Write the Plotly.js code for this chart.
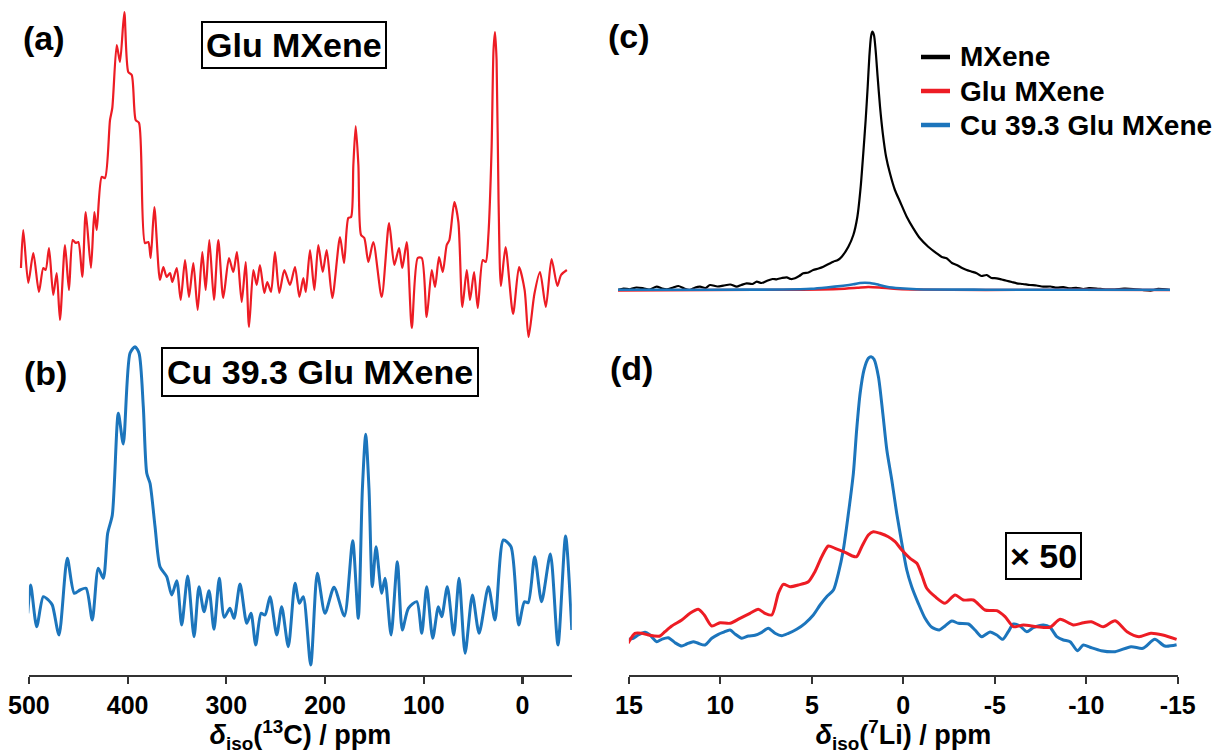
<!DOCTYPE html>
<html>
<head>
<meta charset="utf-8">
<script src="https://cdn.plot.ly/plotly-3.0.1.min.js"></script>
<style>html,body{margin:0;padding:0;background:#fff;}#chart{width:1217px;height:754px;}</style>
</head>
<body>
<div id="chart"></div>
<script>
// ---------- (a) 13C, Glu MXene ----------
const aShift = [508.0,505.7,500.6,495.5,489.8,485.4,483.0,479.6,475.3,471.8,468.5,463.4,459.4,455.6,452.6,449.9,445.9,442.4,437.1,433.7,431.3,426.2,422.9,417.8,415.5,411.0,407.7,403.3,399.3,395.8,391.8,388.4,382.4,379.0,376.6,372.9,367.2,363.8,360.4,357.0,354.7,350.2,346.2,341.8,337.8,333.4,329.0,324.3,320.9,317.2,312.5,308.1,303.1,297.3,292.9,289.2,284.4,280.3,277.0,272.6,269.2,265.9,261.5,258.5,254.7,250.7,246.3,241.2,235.5,230.4,226.0,222.0,219.5,215.2,210.8,206.8,202.3,198.3,192.6,184.8,180.7,176.4,173.6,171.3,168.9,166.2,163.5,160.2,156.1,151.1,142.6,135.1,129.8,125.0,121.7,117.2,112.1,106.1,102.0,97.0,91.9,88.5,84.5,80.7,76.7,74.0,69.0,64.9,60.9,56.4,53.1,49.0,45.3,40.2,37.2,34.5,31.3,29.3,27.8,26.2,24.2,21.8,17.1,9.5,3.5,-2.2,-6.2,-12.1,-17.8,-23.7,-29.5,-35.4,-39.1,-45.0];
const aInt = [62,100,47,77,38,62,60,82,35,57,10,85,40,90,87,88,53,118,62,118,100,153,152,210,222,285,268,318,258,255,210,207,87,88,72,123,50,63,53,57,48,62,30,70,33,67,20,78,40,90,30,90,32,72,58,78,28,68,3,60,45,65,37,48,38,78,37,60,45,63,33,52,38,80,40,85,58,80,32,93,67,112,113,165,204,165,95,92,68,88,33,107,65,82,62,88,2,72,72,13,60,43,73,58,85,90,128,108,23,60,30,58,22,70,68,95,180,280,298,270,130,44,83,16,63,40,-7,36,58,23,71,44,55,60];

// ---------- (b) 13C, Cu 39.3 Glu MXene ----------
const bShift = [501.2,498.2,492.1,485.4,480.3,476.3,469.5,461.1,454.0,448.2,442.1,435.8,429.7,424.6,420.2,415.5,409.4,404.4,397.6,392.5,388.4,384.1,380.6,377.3,372.2,367.2,360.4,355.3,350.2,345.2,339.1,332.7,327.7,322.6,317.5,312.5,307.1,302.1,296.3,292.2,286.1,279.3,275.0,270.2,264.8,260.8,255.7,248.9,243.9,237.2,230.4,226.0,222.0,214.5,207.8,200.0,190.9,180.4,172.0,166.3,162.2,158.8,155.4,152.1,148.3,142.6,139.2,133.1,126.7,121.7,115.6,107.1,102.0,97.0,90.9,85.2,81.8,76.1,69.6,64.2,58.1,50.7,43.9,34.5,27.8,19.3,11.6,3.8,-2.0,-5.8,-12.4,-19.4,-28.3,-36.0,-43.7,-50.0];
const bInt = [61.7,90,48.3,78.3,75,70,40,116.7,81.7,85,86.7,55,106.7,96.7,141.7,160,261.7,231,321.7,328.3,321.7,268.3,201.7,191.7,148.3,108.3,98.3,80,94.3,50,99,38.3,88.3,63.3,84.3,45.7,96.7,57.7,66.7,56.7,91,51.7,61.7,30,61.7,60,78.3,40,68.3,28.3,91.7,71.7,78.3,10,101.7,61.7,87.7,59,134.3,56.7,185,240.7,185,88.3,128.3,81.7,96.7,40,113.3,45,66.7,73.3,41.7,88.3,36.7,68.3,58.3,88.3,40,96.7,21.7,80,41.7,88.3,55,135,128.3,50,73.3,72.3,118.3,73.3,121,30,139,45];

// ---------- (c) 7Li, all samples ----------
const cMxShift = [15.0,14.7,14.35,14.0,13.62,13.3,12.9,12.6,12.35,12.0,11.72,11.4,11.09,10.8,10.54,10.25,10.0,9.6,9.28,8.9,8.55,8.3,8.01,7.7,7.46,7.2,6.92,6.6,6.38,6.1,5.83,5.6,5.38,5.15,4.93,4.65,4.39,4.1,3.84,3.55,3.30,3.05,2.84,2.48,2.21,1.99,1.81,1.67,1.54,1.43,1.34,1.25,1.18,1.09,1.0,0.89,0.76,0.61,0.43,0.22,-0.05,-0.33,-0.69,-1.05,-1.41,-1.86,-2.32,-2.6,-2.86,-3.15,-3.41,-3.7,-3.95,-4.2,-4.49,-4.75,-5.04,-5.3,-5.58,-5.85,-6.12,-6.4,-6.67,-7.0,-7.39,-7.75,-8.11,-8.5,-8.84,-9.2,-9.57,-9.9,-10.29,-10.6,-11.0,-11.5,-12.0,-12.5,-13.0,-13.5,-14.0,-14.3,-14.6,-15.0];
const cMxInt = [0,1.5,0.7,2.5,1.7,0.5,3.3,1.5,0.7,2.5,4,1.5,0,2.5,3.3,2,5,3.5,4.3,5.5,3.3,5,6.7,6,8.3,7,9,11,10.7,12,12.7,11,11.7,14,16.7,17.5,20,21.5,23.3,26,28.3,30,33.3,43.3,55,73.3,103.3,136.7,170,203.3,233.3,253.3,258.3,255,240,213.3,183.3,156.7,133.3,116.7,100,88.3,73.3,61.7,51.7,43.3,36.7,33,31.7,27,25,22,20,18.5,16.7,14,15,12,11.7,10.5,9.3,8,6.7,6,5,4.5,3.3,3.5,2.3,2.8,1.7,2.2,1,1.8,1.5,0.5,0.5,1.3,1,0,-0.5,1,0.8,0];
const cGluShift = [15,10,5,3,2,1.4,0.8,0,-1,-5,-10,-15];
const cGluInt = [-0.5,0,0.3,1,2.2,3,2.5,1.2,0.5,0,0.3,0];
const cCuShift = [15,10,6,4.5,3.66,2.76,2.21,1.85,1.58,1.3,0.94,0.4,-0.33,-1.23,-5,-10,-15];
const cCuInt = [0.3,0.3,0.5,1.2,2.5,4.3,5.7,7,7.3,7,5.7,3.3,1.7,0.7,0.3,0.3,0.3];

// ---------- (d) 7Li, x 50 ----------
const dCuShift = [15.05,14.76,14.49,14.12,13.85,13.48,13.21,12.85,12.48,12.11,11.84,11.48,11.21,10.84,10.47,10.11,9.84,9.47,9.20,8.83,8.47,8.11,7.74,7.38,7.01,6.65,6.28,5.83,5.37,4.92,4.55,4.19,3.82,3.55,3.28,3.0,2.73,2.55,2.36,2.15,1.91,1.76,1.60,1.36,1.12,0.90,0.63,0.36,0.08,-0.19,-0.46,-0.82,-1.19,-1.56,-1.97,-2.28,-2.65,-3.01,-3.56,-3.92,-4.29,-4.74,-5.11,-5.44,-5.74,-6.02,-6.38,-6.75,-7.11,-7.66,-8.02,-8.39,-8.75,-9.12,-9.52,-9.84,-10.21,-10.82,-11.58,-12.45,-13.10,-13.75,-14.29,-14.94];
const dCuInt = [20.7,21.7,25,27.7,25,18.3,20.7,22.3,17.3,14,16,18.3,16.7,15,21.7,25.7,27.7,30,26,21.7,24,24.7,27.7,31.7,26.7,24.3,26.7,30.7,36.7,45,55,63.3,70,86.7,110,146.7,186.7,230,266.7,290,301.7,303.3,300.7,283.3,246.7,210,180,146.7,116.7,90,73.3,56.7,41.7,32.7,30,34,39,36.7,36,30,23.3,28,25,20.7,28.3,36,34,28.3,32.3,35,32.7,23.3,20,18.3,9.3,15,12.7,9.3,8.3,13.3,11.7,20.7,14,15.3];
const dGluShift = [15.05,14.67,14.30,13.94,13.30,13.03,12.66,12.11,11.66,11.21,10.88,10.47,10.02,9.47,8.93,8.38,7.93,7.56,7.19,6.83,6.56,6.19,5.74,5.19,4.83,4.46,4.10,3.73,3.18,2.79,2.55,2.27,1.91,1.64,1.27,0.82,0.45,0.08,-0.37,-0.74,-1.01,-1.28,-1.74,-2.28,-2.83,-3.28,-3.83,-4.47,-5.11,-5.56,-6.02,-6.56,-7.30,-8.02,-8.57,-9.30,-9.84,-10.28,-10.93,-11.58,-12.23,-12.88,-13.53,-14.18,-14.94];
const dGluInt = [16.7,26.7,26.7,25,24,28.3,34,40,46.7,50.7,45,34,37.3,36.7,41.7,46.7,50.7,46.7,45,66.7,75.7,73.3,75,78.3,88.3,103.3,114,111.7,107.7,104,103.3,113.3,125,128.3,126.7,123.3,118.3,110,101.7,96.7,85,71.7,63.3,56.7,65,60,60,50,49.3,43.3,33.3,35,33.3,32.7,40.7,35,37.3,38.3,33.3,39.3,28.3,23.3,26.7,25,20.7];

// ---------- tick labels ----------
const cTickVals = [500,400,300,200,100,0];
const cTickText = ['500','400','300','200','100','0'];
const liTickVals = [15,10,5,0,-5,-10,-15];
const liTickText = ['15','10','5','0','-5','-10','-15'];

const seriesNames = ['MXene','Glu MXene','Cu 39.3 Glu MXene'];
const RED = '#ED1C24', BLUE = '#1C75BC', BLACK = '#000000';
const seriesColors = [BLACK, RED, BLUE];

const FONT = 'Liberation Sans, Arial, Helvetica, sans-serif';
const W = 1217, PLOT_H = 675;
const px = v => v / W;                 // horizontal pixel -> paper
const py = v => (PLOT_H - v) / PLOT_H; // vertical pixel -> paper
const splitY = py(340);

const sp = {shape:'spline', smoothing:0.7};
const traces = [
  {x:aShift, y:aInt, xaxis:'x', yaxis:'y', mode:'lines', line:Object.assign({color:RED, width:2.2}, sp), name:'Glu MXene'},
  {x:bShift, y:bInt, xaxis:'x2', yaxis:'y2', mode:'lines', line:Object.assign({color:BLUE, width:3}, sp), name:'Cu 39.3 Glu MXene'},
  {x:cMxShift, y:cMxInt, xaxis:'x3', yaxis:'y3', mode:'lines', line:Object.assign({color:BLACK, width:2.2}, sp), name:seriesNames[0]},
  {x:cGluShift, y:cGluInt, xaxis:'x3', yaxis:'y3', mode:'lines', line:Object.assign({color:RED, width:2.4}, sp), name:seriesNames[1]},
  {x:cCuShift, y:cCuInt, xaxis:'x3', yaxis:'y3', mode:'lines', line:Object.assign({color:BLUE, width:2.6}, sp), name:seriesNames[2]},
  {x:dCuShift, y:dCuInt, xaxis:'x4', yaxis:'y4', mode:'lines', line:Object.assign({color:BLUE, width:3}, sp), name:seriesNames[2]},
  {x:dGluShift, y:dGluInt, xaxis:'x4', yaxis:'y4', mode:'lines', line:Object.assign({color:RED, width:3}, sp), name:seriesNames[1]}
];

const hidden = {visible:false, fixedrange:true};
const tickFont = {family:FONT, size:25, color:'#000', weight:'bold'};
const titleFont = {family:FONT, size:27, color:'#000', weight:'bold'};
const baseX = {
  showline:true, linecolor:'#333', linewidth:2.2, ticks:'outside', ticklen:7, tickwidth:2.2, tickcolor:'#333',
  showgrid:false, zeroline:false, tickfont:tickFont, tickmode:'array', fixedrange:true
};

function ann(text, x, y, size, box, anchor, pad) {
  const a = {text:'<b>'+text+'</b>', x:x, y:y, xref:'paper', yref:'paper', showarrow:false,
    xanchor: anchor || 'center', yanchor:'middle', font:{family:FONT, size:size, color:'#000', weight:'bold'}};
  if (box) { a.bordercolor = '#000'; a.borderwidth = 2; a.borderpad = pad; a.bgcolor = '#fff'; }
  return a;
}

// legend of panel (c), drawn as line samples + labels
const legendRowsY = [57, 91, 125];
const legendShapes = seriesNames.map((n, i) => ({
  type:'line', xref:'paper', yref:'paper', x0:px(921), x1:px(950), y0:py(legendRowsY[i]), y1:py(legendRowsY[i]),
  line:{color:seriesColors[i], width:4.5}
}));
const legendLabels = seriesNames.map((n, i) => ann(n, px(958), py(legendRowsY[i]), 28, false, 'left'));

const layout = {
  width:W, height:754, margin:{l:0, r:0, t:0, b:79},
  paper_bgcolor:'#fff', plot_bgcolor:'rgba(0,0,0,0)',
  font:{family:FONT, color:'#000'},
  showlegend:false,
  xaxis: Object.assign({}, hidden, {range:[510,-50], domain:[px(19.0), px(571.8)], anchor:'y'}),
  yaxis: Object.assign({}, hidden, {range:[-10,330], domain:[splitY,1], anchor:'x'}),
  xaxis2: Object.assign({}, baseX, {range:[500,-50], domain:[px(28.9), px(571.8)], anchor:'y2',
    tickvals:cTickVals, ticktext:cTickText,
    title:{text:'<i>δ</i><sub>iso</sub>(<sup>13</sup>C) / ppm', font:titleFont, standoff:7}}),
  yaxis2: Object.assign({}, hidden, {range:[0,335], domain:[0,splitY], anchor:'x2'}),
  xaxis3: Object.assign({}, hidden, {range:[15,-15], domain:[px(618), px(1170)], anchor:'y3'}),
  yaxis3: Object.assign({}, hidden, {range:[-50,290], domain:[splitY,1], anchor:'x3'}),
  xaxis4: Object.assign({}, baseX, {range:[15,-15], domain:[px(628.9), px(1177.7)], anchor:'y4',
    tickvals:liTickVals, ticktext:liTickText,
    title:{text:'<i>δ</i><sub>iso</sub>(<sup>7</sup>Li) / ppm', font:titleFont, standoff:7}}),
  yaxis4: Object.assign({}, hidden, {range:[-15,320], domain:[0,splitY], anchor:'x4'}),
  shapes: legendShapes,
  annotations:[
    ann('(a)', px(21), py(37.5), 34, false, 'left'),
    ann('(b)', px(22), py(372.5), 34, false, 'left'),
    ann('(c)', px(606), py(36), 34, false, 'left'),
    ann('(d)', px(608), py(368), 34, false, 'left'),
    ann('Glu MXene', px(294), py(44.5), 34, true, 'center', 3),
    ann('Cu 39.3 Glu MXene', px(320.4), py(372), 34, true, 'center', 4),
    ann('× 50', px(1043.5), py(556), 34, true, 'center', 3)
  ].concat(legendLabels)
};

Plotly.newPlot('chart', traces, layout, {displayModeBar:false, staticPlot:true});
</script>
</body>
</html>
